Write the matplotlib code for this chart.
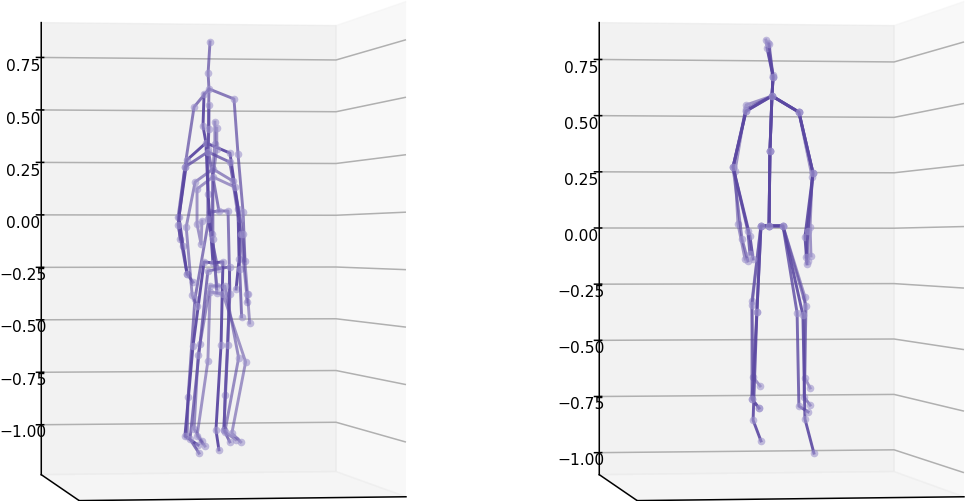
import matplotlib
matplotlib.use("Agg")
import matplotlib.pyplot as plt

# joint order:
# pelvis, hipL, kneeL, ankleL, toeL, hipR, kneeR, ankleR, toeR, spine, neck, nose, head,
# shoulderL, elbowL, wristL, handL, shoulderR, elbowR, wristR, handR
chains = [[4, 3, 2, 1, 0, 5, 6, 7, 8], [0, 9, 10, 11, 12], [16, 15, 14, 13, 10, 17, 18, 19, 20]]

z_ticks = [-1.0, -0.75, -0.5, -0.25, 0.0, 0.25, 0.5, 0.75]

left_x = [
    [.017, -.025, -.096, -.128, -.133, .060, .069, .046, .041, -.034, -.030, -.034, -.025, -.100, -.143, -.175, -.166, .088, .107, .131, .140],
    [-.011, -.053, -.105, -.143, -.081, .036, .027, .003, .017, -.034, -.044, -.058, -.053, -.133, -.171, -.152, -.133, .069, .107, .112, .098],
    [.012, -.035, -.072, -.119, -.077, .068, .059, .040, .068, -.035, -.035, -.030, -.030, -.142, -.175, -.133, -.105, .068, .115, .115, .124],
    [.007, -.025, -.081, -.100, -.063, .045, .110, .045, .096, -.016, -.011, -.002, -.002, -.095, -.137, -.109, -.086, .082, .120, .148, .148],
    [.007, -.025, -.035, -.086, -.049, .036, .143, .078, .120, -.011, -.011, .007, .007, -.086, -.086, -.067, -.063, .092, .129, .152, .162],
]
left_z = [
    [.012, .007, -.389, -.835, -1.013, .012, -.367, -.827, -.987, .294, .568, .640, .782, .485, .212, -.016, -.116, .523, .272, .007, -.216],
    [-.225, -.220, -.603, -1.013, -1.054, -.220, -.599, -.986, -1.077, .089, .322, .399, .545, .244, -.015, -.148, -.275, .276, .021, -.207, -.344],
    [-.252, -.262, -.594, -1.027, -1.091, -.243, -.599, -.986, -1.041, -.025, .281, .385, .495, .212, -.052, -.275, -.312, .235, -.025, -.252, -.471],
    [-.330, -.330, -.644, -.981, -1.036, -.330, -.658, -.995, -1.031, -.093, .203, .317, .417, .144, -.061, -.371, -.421, .149, -.093, -.366, -.403],
    [-.362, -.357, -.672, -1.013, -1.059, -.367, -.677, -1.001, -1.042, -.116, .167, .294, .390, .112, -.048, -.139, -.034, .121, -.093, -.367, -.499],
]
left_alpha = [.7, .95, .75, .6, .55]

right_x = [
    [-.019, -.055, -.095, -.090, -.059, .043, .141, .141, .164, -.015, -.006, -.001, -.033, -.121, -.170, -.157, -.126, .114, .173, .164, .168],
    [-.019, -.055, -.095, -.095, -.064, .043, .146, .137, .164, -.015, -.006, -.001, -.024, -.121, -.179, -.139, -.113, .114, .177, .150, .155],
    [-.019, -.055, -.073, -.090, -.055, .043, .132, .141, .181, -.015, -.006, -.001, -.028, -.121, -.179, -.104, -.090, .114, .177, .141, .150],
    [-.019, -.055, -.073, -.095, -.064, .043, .106, .114, .155, -.015, -.006, -.001, -.019, -.121, -.179, -.113, -.104, .114, .177, .155, .146],
]
right_z = [
    [.006, .006, -.313, -.637, -.675, .006, -.297, -.642, -.685, .325, .559, .648, .797, .520, .239, .014, -.135, .491, .215, .001, -.122],
    [.006, .006, -.330, -.730, -.769, .006, -.335, -.723, -.758, .325, .559, .640, .784, .503, .256, -.050, -.143, .491, .232, -.028, -.144],
    [.006, .006, -.360, -.820, -.909, .006, -.374, -.817, -.963, .325, .559, .640, .763, .494, .256, -.037, -.135, .491, .232, -.041, -.156],
    [.006, .006, -.360, -.730, -.769, .006, -.365, -.762, -.787, .325, .559, .640, .780, .494, .256, -.016, -.114, .491, .232, -.016, -.127],
]
right_alpha = [.55, .65, .9, .8]

plt.rcParams['axes.linewidth'] = 1.1
plt.rcParams['grid.linewidth'] = 1.1
plt.rcParams['xtick.major.width'] = 1.1
plt.rcParams['ytick.major.width'] = 1.1

fig = plt.figure(figsize=(9.65, 5.02), dpi=100)


def draw_panel(left_px, zlim, x_half, xs, zs, alphas):
    ax = fig.add_axes([(left_px - 42.47) / 965, -5.7 / 502, 502 / 965, 1], projection='3d')
    ax.patch.set_alpha(0)
    ax.set_xlim(-x_half, x_half)
    ax.set_ylim(-x_half * 1.133, x_half * 1.133)
    ax.set_zlim(*zlim)
    ax.view_init(elev=0.1, azim=-98.74)
    ax.set_proj_type('persp', focal_length=1.2277)
    ax.set_box_aspect((1, 1.133, 1.507), zoom=1.2944)
    ax.set_xticks([])
    ax.set_yticks([])
    ax.set_zticks(z_ticks)
    ax.tick_params(axis='z', labelsize=11.2, pad=2.5)

    for x, z, alpha in zip(xs, zs, alphas):
        for chain in chains:
            cx = [x[i] for i in chain]
            cz = [z[i] for i in chain]
            ax.plot(cx, [0] * len(cx), cz, color='#5b48a2', alpha=alpha, lw=2.1)
        ax.plot(x, [0] * len(x), z, ls='', marker='o', ms=5.5, mew=0, color='#9d93cc', alpha=.6)


draw_panel(0, (-1.238, .916), .73, left_x, left_z, left_alpha)
draw_panel(558, (-1.098, .914), .69, right_x, right_z, right_alpha)

fig.savefig("out.png", dpi=100)
